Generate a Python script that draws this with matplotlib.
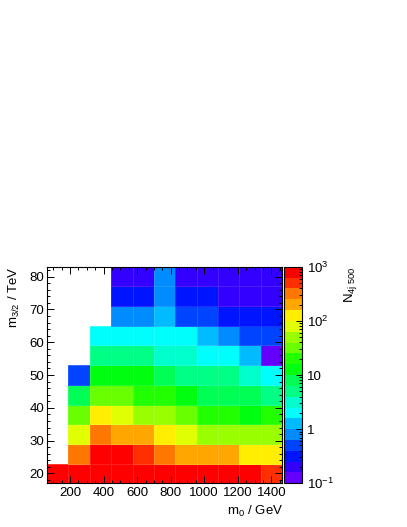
import colorsys
import numpy as np
import matplotlib
matplotlib.use("Agg")
import matplotlib.pyplot as plt
from matplotlib.colors import ListedColormap, LogNorm
from matplotlib.ticker import MultipleLocator, FixedLocator, FixedFormatter, LogLocator, NullFormatter

plt.rcParams["font.family"] = ["Liberation Sans", "DejaVu Sans"]
plt.rcParams["mathtext.fontset"] = "custom"
plt.rcParams["mathtext.rm"] = "Liberation Sans"
plt.rcParams["mathtext.it"] = "Liberation Sans:italic"
plt.rcParams["mathtext.default"] = "regular"

nan = np.nan

# bin centres
m0_gev = [127, 255, 382, 509, 636, 764, 891, 1018, 1145, 1273, 1400]
m32_tev = [20, 26, 32, 38, 44, 50, 56, 62, 68, 74, 80]

# N_4j500 per cell, rows follow m32_tev (bottom -> top), columns follow m0_gev
n_4j500 = [
    [800, 800, 800, 800, 800, 800, 800, 800, 800, 800, 500],
    [nan, 320, 800, 800, 500, 320, 200, 200, 200, 126, 126],
    [nan, 79, 320, 200, 200, 126, 79, 50, 50, 50, 50],
    [nan, 32, 126, 79, 50, 50, 32, 20, 20, 12.6, 20],
    [nan, 7.9, 32, 32, 20, 20, 12.6, 7.9, 7.9, 7.9, 5.0],
    [nan, 0.5, 12.6, 12.6, 12.6, 7.9, 5.0, 5.0, 5.0, 3.2, 2.0],
    [nan, nan, 5.0, 5.0, 5.0, 3.2, 3.2, 2.0, 2.0, 1.26, 0.126],
    [nan, nan, 2.0, 2.0, 2.0, 2.0, 2.0, 1.26, 0.79, 0.5, 0.5],
    [nan, nan, nan, 0.79, 0.79, 1.26, 0.5, 0.5, 0.32, 0.32, 0.32],
    [nan, nan, nan, 0.32, 0.32, 0.79, 0.32, 0.32, 0.2, 0.2, 0.2],
    [nan, nan, nan, 0.2, 0.2, 0.79, 0.2, 0.2, 0.2, 0.2, 0.2],
]

cbar_ticks = [0.1, 1, 10, 100, 1000]
cbar_labels = [r"$10^{-1}$", "1", "10", r"$10^{2}$", r"$10^{3}$"]


def edges(centres):
    c = np.asarray(centres, dtype=float)
    mid = (c[1:] + c[:-1]) / 2
    return np.concatenate([[c[0] - (mid[0] - c[0])], mid, [c[-1] + (c[-1] - mid[-1])]])


# ROOT "pretty" palette (violet -> red), 20 contour levels
pretty = []
for i in range(49):
    hue = 280 - (i + 1) * 280 / 50
    pretty.append(colorsys.hls_to_rgb(hue / 360, 0.5, 1.0))
pretty.append((1.0, 0.0, 0.0))
levels = 20
cmap = ListedColormap([pretty[int((k + 0.99) * 50 / levels)] for k in range(levels)])
norm = LogNorm(vmin=0.1, vmax=1000)

fig = plt.figure(figsize=(4.07, 5.27), dpi=100)
ax = fig.add_axes([0.1155, 0.0829, 0.5775, 0.411])
cax = fig.add_axes([0.699, 0.0829, 0.0423, 0.411])

xe = edges(m0_gev)
ye = edges(m32_tev)
mesh = ax.pcolormesh(xe, ye, np.array(n_4j500), cmap=cmap, norm=norm,
                     edgecolors=(1, 1, 1, 0.12), linewidth=0.4)
ax.set_xlim(xe[0], xe[-1])
ax.set_ylim(ye[0], ye[-1])

ax.xaxis.set_major_locator(MultipleLocator(200))
ax.xaxis.set_minor_locator(MultipleLocator(50))
ax.yaxis.set_major_locator(MultipleLocator(10))
ax.yaxis.set_minor_locator(MultipleLocator(2))
ax.tick_params(which="both", direction="in", top=True, right=True,
               labelsize=9.5, width=0.7)
ax.tick_params(which="major", length=5)
ax.tick_params(which="minor", length=2.5)
ax.tick_params(axis="x", pad=3)
ax.tick_params(axis="y", pad=2)
for s in ax.spines.values():
    s.set_linewidth(0.8)

fig.text(0.695, 0.030, "$m_{0}$ / GeV", ha="right", va="center", fontsize=9.5)
fig.text(0.036, 0.494, "$m_{3/2}$ / TeV", ha="center", va="top", rotation=90, fontsize=9.5)

cb = fig.colorbar(mesh, cax=cax)
cb.outline.set_linewidth(0.8)
cax.yaxis.set_major_locator(FixedLocator(cbar_ticks))
cax.yaxis.set_major_formatter(FixedFormatter(cbar_labels))
cax.yaxis.set_minor_locator(LogLocator(base=10, subs=np.arange(2, 10)))
cax.yaxis.set_minor_formatter(NullFormatter())
cax.tick_params(which="both", direction="in", right=True, left=False,
                labelsize=9.5, width=0.7, pad=4)
cax.tick_params(which="major", length=4)
cax.tick_params(which="minor", length=2)

fig.text(0.86, 0.494, "$N_{4j\\ 500}$", ha="center", va="top", rotation=90, fontsize=9.5)

fig.savefig("out.png", dpi=100)
